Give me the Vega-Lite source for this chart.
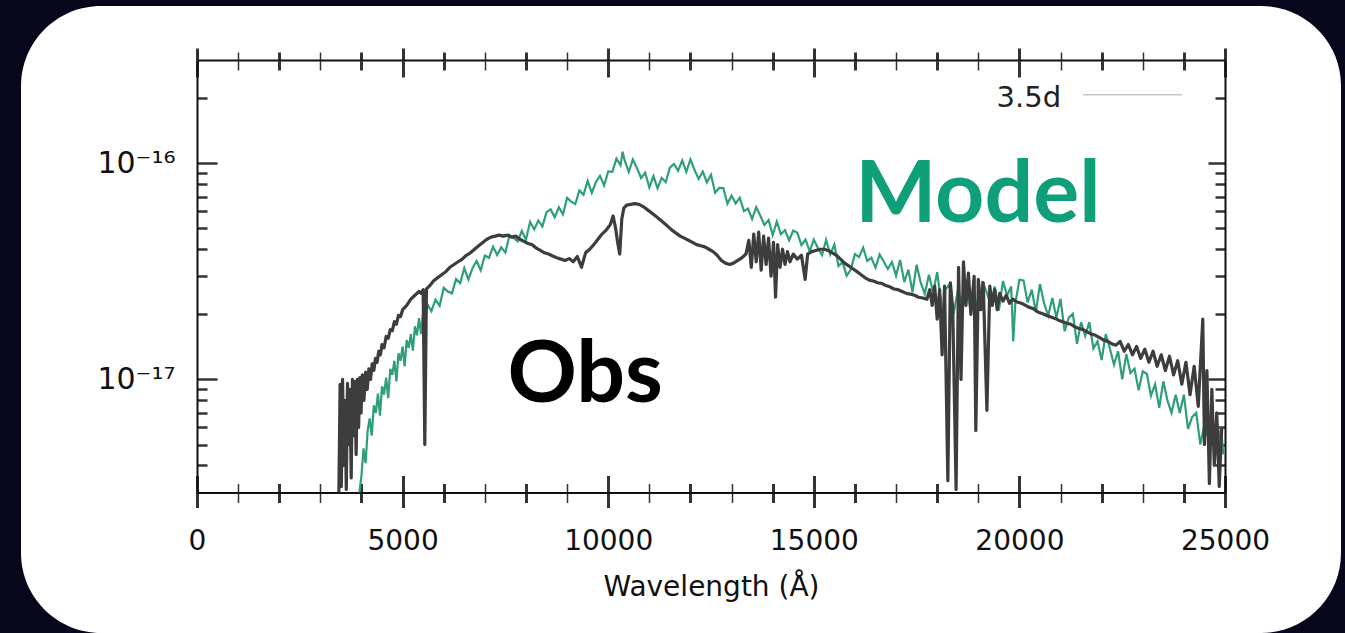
{
  "$schema": "https://vega.github.io/schema/vega-lite/v6.json",
  "width": 1320,
  "height": 627,
  "autosize": {"type": "none"},
  "padding": {"left": 21, "top": 6, "right": 4, "bottom": 0},
  "background": "#07071c",
  "config": {
    "view": {"fill": "white", "stroke": null, "cornerRadius": 80},
    "axis": {"grid": false, "domainColor": "#111111", "domainWidth": 2, "tickColor": "#333333", "labelFont": "DejaVu Sans", "labelColor": "#111111", "titleFont": "DejaVu Sans", "titleColor": "#111111", "titleFontWeight": "normal"}
  },
  "datasets": {
    "obs": [
      {"w":3450,"f":3.0e-18},{"w":3480,"f":9.5e-18},{"w":3510,"f":3.2e-18},{"w":3540,"f":1.0e-17},{"w":3570,"f":4.0e-18},{"w":3600,"f":8.0e-18},{"w":3630,"f":3.1e-18},{"w":3660,"f":9.6e-18},{"w":3690,"f":5.0e-18},{"w":3720,"f":9.0e-18},{"w":3750,"f":3.5e-18},{"w":3780,"f":1.0e-17},{"w":3810,"f":5.5e-18},{"w":3840,"f":9.8e-18},{"w":3870,"f":4.5e-18},{"w":3900,"f":1.0e-17},{"w":3930,"f":6.0e-18},{"w":3960,"f":1.02e-17},{"w":3990,"f":7.0e-18},{"w":4020,"f":1.05e-17},{"w":4060,"f":8.0e-18},{"w":4100,"f":1.08e-17},{"w":4140,"f":9.0e-18},{"w":4180,"f":1.12e-17},{"w":4220,"f":1.0e-17},{"w":4260,"f":1.18e-17},{"w":4300,"f":1.1e-17},{"w":4340,"f":1.25e-17},{"w":4380,"f":1.2e-17},{"w":4420,"f":1.35e-17},{"w":4460,"f":1.3e-17},{"w":4500,"f":1.45e-17},{"w":4550,"f":1.4e-17},{"w":4600,"f":1.58e-17},{"w":4650,"f":1.55e-17},{"w":4700,"f":1.7e-17},{"w":4750,"f":1.68e-17},{"w":4800,"f":1.85e-17},{"w":4850,"f":1.8e-17},{"w":4900,"f":1.98e-17},{"w":4950,"f":1.95e-17},{"w":5000,"f":2.1e-17},{"w":5100,"f":2.2e-17},{"w":5200,"f":2.35e-17},{"w":5300,"f":2.45e-17},{"w":5400,"f":2.55e-17},{"w":5450,"f":2.5e-17},{"w":5500,"f":2.6e-17},{"w":5540,"f":5.0e-18},{"w":5580,"f":2.62e-17},{"w":5650,"f":2.7e-17},{"w":5750,"f":2.85e-17},{"w":5850,"f":2.95e-17},{"w":5950,"f":3.05e-17},{"w":6050,"f":3.15e-17},{"w":6150,"f":3.3e-17},{"w":6250,"f":3.4e-17},{"w":6350,"f":3.5e-17},{"w":6450,"f":3.6e-17},{"w":6550,"f":3.75e-17},{"w":6650,"f":3.85e-17},{"w":6750,"f":4.0e-17},{"w":6850,"f":4.15e-17},{"w":6950,"f":4.3e-17},{"w":7050,"f":4.45e-17},{"w":7150,"f":4.55e-17},{"w":7250,"f":4.6e-17},{"w":7350,"f":4.65e-17},{"w":7450,"f":4.6e-17},{"w":7550,"f":4.65e-17},{"w":7650,"f":4.55e-17},{"w":7750,"f":4.6e-17},{"w":7850,"f":4.45e-17},{"w":7950,"f":4.35e-17},{"w":8050,"f":4.25e-17},{"w":8150,"f":4.2e-17},{"w":8250,"f":4.05e-17},{"w":8350,"f":3.95e-17},{"w":8450,"f":3.85e-17},{"w":8550,"f":3.8e-17},{"w":8650,"f":3.72e-17},{"w":8750,"f":3.65e-17},{"w":8850,"f":3.6e-17},{"w":8950,"f":3.55e-17},{"w":9050,"f":3.62e-17},{"w":9150,"f":3.5e-17},{"w":9250,"f":3.7e-17},{"w":9350,"f":3.3e-17},{"w":9450,"f":3.85e-17},{"w":9550,"f":4.0e-17},{"w":9650,"f":4.2e-17},{"w":9750,"f":4.45e-17},{"w":9850,"f":4.7e-17},{"w":9950,"f":4.9e-17},{"w":10050,"f":5.2e-17},{"w":10120,"f":5.7e-17},{"w":10180,"f":5.0e-17},{"w":10230,"f":4.3e-17},{"w":10280,"f":3.8e-17},{"w":10330,"f":5.5e-17},{"w":10380,"f":6.2e-17},{"w":10450,"f":6.4e-17},{"w":10550,"f":6.45e-17},{"w":10650,"f":6.5e-17},{"w":10750,"f":6.45e-17},{"w":10850,"f":6.3e-17},{"w":10950,"f":6.1e-17},{"w":11050,"f":5.9e-17},{"w":11150,"f":5.7e-17},{"w":11250,"f":5.5e-17},{"w":11350,"f":5.3e-17},{"w":11450,"f":5.1e-17},{"w":11550,"f":4.9e-17},{"w":11650,"f":4.75e-17},{"w":11750,"f":4.6e-17},{"w":11850,"f":4.5e-17},{"w":11950,"f":4.4e-17},{"w":12050,"f":4.3e-17},{"w":12150,"f":4.2e-17},{"w":12250,"f":4.15e-17},{"w":12350,"f":4.1e-17},{"w":12450,"f":4.0e-17},{"w":12550,"f":3.9e-17},{"w":12650,"f":3.75e-17},{"w":12750,"f":3.55e-17},{"w":12850,"f":3.45e-17},{"w":12950,"f":3.4e-17},{"w":13050,"f":3.45e-17},{"w":13150,"f":3.55e-17},{"w":13250,"f":3.65e-17},{"w":13350,"f":3.8e-17},{"w":13420,"f":4.4e-17},{"w":13480,"f":3.3e-17},{"w":13540,"f":4.7e-17},{"w":13600,"f":3.5e-17},{"w":13660,"f":4.8e-17},{"w":13720,"f":3.2e-17},{"w":13780,"f":4.6e-17},{"w":13840,"f":3.4e-17},{"w":13900,"f":4.5e-17},{"w":13960,"f":3.0e-17},{"w":14020,"f":4.3e-17},{"w":14070,"f":2.4e-17},{"w":14120,"f":4.2e-17},{"w":14180,"f":3.3e-17},{"w":14240,"f":4.0e-17},{"w":14300,"f":3.4e-17},{"w":14360,"f":3.9e-17},{"w":14420,"f":3.5e-17},{"w":14500,"f":3.8e-17},{"w":14600,"f":3.6e-17},{"w":14700,"f":3.75e-17},{"w":14790,"f":2.9e-17},{"w":14850,"f":3.8e-17},{"w":14950,"f":3.9e-17},{"w":15050,"f":3.95e-17},{"w":15150,"f":4.0e-17},{"w":15250,"f":4.0e-17},{"w":15350,"f":3.95e-17},{"w":15450,"f":3.85e-17},{"w":15550,"f":3.75e-17},{"w":15650,"f":3.6e-17},{"w":15750,"f":3.45e-17},{"w":15850,"f":3.35e-17},{"w":15950,"f":3.25e-17},{"w":16050,"f":3.15e-17},{"w":16150,"f":3.05e-17},{"w":16250,"f":2.95e-17},{"w":16350,"f":2.88e-17},{"w":16450,"f":2.85e-17},{"w":16550,"f":2.8e-17},{"w":16650,"f":2.78e-17},{"w":16750,"f":2.72e-17},{"w":16850,"f":2.68e-17},{"w":16950,"f":2.62e-17},{"w":17050,"f":2.6e-17},{"w":17150,"f":2.55e-17},{"w":17250,"f":2.5e-17},{"w":17350,"f":2.48e-17},{"w":17450,"f":2.45e-17},{"w":17550,"f":2.4e-17},{"w":17650,"f":2.38e-17},{"w":17750,"f":2.35e-17},{"w":17820,"f":2.6e-17},{"w":17880,"f":2.2e-17},{"w":17940,"f":2.7e-17},{"w":18000,"f":1.9e-17},{"w":18060,"f":2.6e-17},{"w":18120,"f":1.3e-17},{"w":18180,"f":2.7e-17},{"w":18260,"f":3.4e-18},{"w":18320,"f":2.8e-17},{"w":18380,"f":2.1e-17},{"w":18460,"f":3.1e-18},{"w":18520,"f":3.3e-17},{"w":18580,"f":1.0e-17},{"w":18640,"f":3.5e-17},{"w":18700,"f":2.2e-17},{"w":18760,"f":3.1e-17},{"w":18820,"f":2.0e-17},{"w":18900,"f":3.0e-17},{"w":18940,"f":5.8e-18},{"w":19000,"f":2.9e-17},{"w":19060,"f":2.1e-17},{"w":19120,"f":2.8e-17},{"w":19210,"f":7.2e-18},{"w":19280,"f":2.7e-17},{"w":19340,"f":2.2e-17},{"w":19400,"f":2.6e-17},{"w":19460,"f":2.1e-17},{"w":19520,"f":2.5e-17},{"w":19600,"f":2.3e-17},{"w":19680,"f":2.45e-17},{"w":19760,"f":2.25e-17},{"w":19840,"f":2.35e-17},{"w":19940,"f":2.28e-17},{"w":20050,"f":2.25e-17},{"w":20150,"f":2.2e-17},{"w":20250,"f":2.15e-17},{"w":20350,"f":2.12e-17},{"w":20450,"f":2.05e-17},{"w":20550,"f":2.02e-17},{"w":20650,"f":1.98e-17},{"w":20750,"f":1.95e-17},{"w":20850,"f":1.92e-17},{"w":20950,"f":1.88e-17},{"w":21050,"f":1.85e-17},{"w":21150,"f":1.82e-17},{"w":21250,"f":1.8e-17},{"w":21350,"f":1.75e-17},{"w":21450,"f":1.72e-17},{"w":21550,"f":1.7e-17},{"w":21650,"f":1.66e-17},{"w":21750,"f":1.62e-17},{"w":21850,"f":1.6e-17},{"w":21950,"f":1.56e-17},{"w":22050,"f":1.52e-17},{"w":22150,"f":1.5e-17},{"w":22250,"f":1.46e-17},{"w":22350,"f":1.44e-17},{"w":22450,"f":1.5e-17},{"w":22550,"f":1.35e-17},{"w":22650,"f":1.45e-17},{"w":22750,"f":1.3e-17},{"w":22850,"f":1.42e-17},{"w":22950,"f":1.25e-17},{"w":23050,"f":1.38e-17},{"w":23150,"f":1.2e-17},{"w":23250,"f":1.35e-17},{"w":23350,"f":1.15e-17},{"w":23450,"f":1.3e-17},{"w":23550,"f":1.1e-17},{"w":23650,"f":1.28e-17},{"w":23750,"f":1.05e-17},{"w":23850,"f":1.22e-17},{"w":23950,"f":9.5e-18},{"w":24050,"f":1.2e-17},{"w":24150,"f":8.5e-18},{"w":24250,"f":1.15e-17},{"w":24350,"f":7.5e-18},{"w":24460,"f":1.9e-17},{"w":24500,"f":5.0e-18},{"w":24560,"f":1.1e-17},{"w":24620,"f":3.3e-18},{"w":24680,"f":9.0e-18},{"w":24740,"f":4.0e-18},{"w":24800,"f":7.0e-18},{"w":24860,"f":3.2e-18},{"w":24920,"f":6.0e-18}
    ],
    "model": [
      {"w":3950,"f":3.0e-18},{"w":4000,"f":3.6e-18},{"w":4050,"f":4.8e-18},{"w":4100,"f":4.1e-18},{"w":4150,"f":5.8e-18},{"w":4200,"f":6.6e-18},{"w":4250,"f":5.5e-18},{"w":4300,"f":7.6e-18},{"w":4350,"f":7.0e-18},{"w":4400,"f":8.6e-18},{"w":4450,"f":6.8e-18},{"w":4500,"f":9.3e-18},{"w":4550,"f":8.5e-18},{"w":4600,"f":1.02e-17},{"w":4650,"f":8.2e-18},{"w":4700,"f":1.12e-17},{"w":4750,"f":1.05e-17},{"w":4800,"f":1.22e-17},{"w":4850,"f":9.8e-18},{"w":4900,"f":1.32e-17},{"w":4950,"f":1.22e-17},{"w":5000,"f":1.42e-17},{"w":5050,"f":1.15e-17},{"w":5100,"f":1.52e-17},{"w":5150,"f":1.4e-17},{"w":5200,"f":1.62e-17},{"w":5250,"f":1.36e-17},{"w":5300,"f":1.76e-17},{"w":5350,"f":1.6e-17},{"w":5400,"f":1.92e-17},{"w":5450,"f":1.62e-17},{"w":5500,"f":2.08e-17},{"w":5550,"f":1.85e-17},
      {"w":5600,"f":2.23e-17},{"w":5700,"f":2.07e-17},{"w":5800,"f":2.34e-17},{"w":5900,"f":2.19e-17},{"w":6000,"f":2.65e-17},{"w":6100,"f":2.55e-17},{"w":6200,"f":2.5e-17},{"w":6300,"f":2.91e-17},{"w":6400,"f":2.79e-17},{"w":6500,"f":3.27e-17},{"w":6600,"f":2.9e-17},{"w":6700,"f":3.27e-17},{"w":6800,"f":3.53e-17},{"w":6900,"f":3.2e-17},{"w":7000,"f":3.74e-17},{"w":7100,"f":3.65e-17},{"w":7200,"f":4.11e-17},{"w":7300,"f":3.76e-17},{"w":7400,"f":4.08e-17},{"w":7500,"f":3.86e-17},{"w":7600,"f":4.65e-17},{"w":7700,"f":4.51e-17},{"w":7800,"f":4.35e-17},{"w":7900,"f":4.87e-17},{"w":8000,"f":4.42e-17},{"w":8100,"f":5.36e-17},{"w":8200,"f":4.94e-17},{"w":8300,"f":5.42e-17},{"w":8400,"f":5.1e-17},{"w":8500,"f":5.94e-17},{"w":8600,"f":6.11e-17},{"w":8700,"f":5.62e-17},{"w":8800,"f":6.26e-17},{"w":8900,"f":5.8e-17},{"w":9000,"f":6.91e-17},{"w":9100,"f":6.64e-17},{"w":9200,"f":6.47e-17},{"w":9300,"f":7.48e-17},{"w":9400,"f":7.14e-17},{"w":9500,"f":8.28e-17},{"w":9600,"f":7.29e-17},{"w":9700,"f":8.16e-17},{"w":9800,"f":8.74e-17},{"w":9900,"f":7.88e-17},{"w":10000,"f":9.15e-17},{"w":10100,"f":9.11e-17},{"w":10200,"f":1.05e-16},{"w":10300,"f":9.79e-17},{"w":10350,"f":1.13e-16},{"w":10400,"f":1.03e-16},{"w":10500,"f":9.11e-17},{"w":10600,"f":1.04e-16},{"w":10700,"f":9.49e-17},{"w":10800,"f":8.54e-17},{"w":10900,"f":9.03e-17},{"w":11000,"f":7.72e-17},{"w":11100,"f":8.72e-17},{"w":11200,"f":7.66e-17},{"w":11300,"f":8.55e-17},{"w":11400,"f":8.18e-17},{"w":11500,"f":9.54e-17},{"w":11600,"f":9.91e-17},{"w":11700,"f":9.22e-17},{"w":11800,"f":1.03e-16},{"w":11900,"f":9.11e-17},{"w":12000,"f":1.04e-16},{"w":12100,"f":9.3e-17},{"w":12200,"f":8.46e-17},{"w":12300,"f":9.14e-17},{"w":12400,"f":8.15e-17},{"w":12500,"f":8.83e-17},{"w":12600,"f":7.3e-17},{"w":12700,"f":7.68e-17},{"w":12800,"f":7.67e-17},{"w":12900,"f":6.49e-17},{"w":13000,"f":7.07e-17},{"w":13100,"f":6.51e-17},{"w":13200,"f":6.93e-17},{"w":13300,"f":6.0e-17},{"w":13400,"f":6.16e-17},{"w":13500,"f":5.52e-17},{"w":13600,"f":6.26e-17},{"w":13700,"f":5.71e-17},{"w":13800,"f":5.18e-17},{"w":13900,"f":5.46e-17},{"w":14000,"f":4.65e-17},{"w":14100,"f":5.36e-17},{"w":14200,"f":4.69e-17},{"w":14300,"f":4.9e-17},{"w":14400,"f":4.4e-17},{"w":14500,"f":4.88e-17},{"w":14600,"f":4.77e-17},{"w":14700,"f":4.18e-17},{"w":14800,"f":4.43e-17},{"w":14900,"f":3.91e-17},{"w":15000,"f":4.43e-17},{"w":15100,"f":4.05e-17},{"w":15200,"f":3.76e-17},{"w":15300,"f":4.42e-17},{"w":15400,"f":3.78e-17},{"w":15500,"f":4.2e-17},{"w":15600,"f":3.35e-17},{"w":15700,"f":3.48e-17},{"w":15800,"f":3.02e-17},{"w":15900,"f":3.22e-17},{"w":16000,"f":3.8e-17},{"w":16100,"f":3.68e-17},{"w":16200,"f":4.07e-17},{"w":16300,"f":3.53e-17},{"w":16400,"f":3.65e-17},{"w":16500,"f":3.29e-17},{"w":16600,"f":3.78e-17},{"w":16700,"f":3.51e-17},{"w":16800,"f":3.24e-17},{"w":16900,"f":3.49e-17},{"w":17000,"f":3.02e-17},{"w":17100,"f":3.57e-17},{"w":17200,"f":2.82e-17},{"w":17300,"f":3.22e-17},{"w":17400,"f":2.53e-17},{"w":17500,"f":3.39e-17},{"w":17600,"f":2.8e-17},{"w":17700,"f":2.49e-17},{"w":17800,"f":3.05e-17},{"w":17900,"f":2.52e-17},{"w":18000,"f":3.13e-17},{"w":18100,"f":2.24e-17},{"w":18150,"f":1.75e-17},{"w":18200,"f":2.6e-17},{"w":18300,"f":2.75e-17},{"w":18400,"f":2.01e-17},{"w":18500,"f":2.57e-17},{"w":18600,"f":2.29e-17},{"w":18700,"f":2.76e-17},{"w":18800,"f":2.16e-17},{"w":18900,"f":2.44e-17},{"w":19000,"f":2.08e-17},{"w":19100,"f":2.85e-17},{"w":19200,"f":2.54e-17},{"w":19300,"f":2.23e-17},{"w":19400,"f":2.69e-17},{"w":19500,"f":2.08e-17},{"w":19600,"f":2.85e-17},{"w":19700,"f":2.44e-17},{"w":19800,"f":2.69e-17},{"w":19850,"f":1.5e-17},{"w":19900,"f":2.24e-17},{"w":20000,"f":2.89e-17},{"w":20100,"f":2.87e-17},{"w":20200,"f":2.27e-17},{"w":20300,"f":2.6e-17},{"w":20400,"f":2.05e-17},{"w":20500,"f":2.76e-17},{"w":20600,"f":2.25e-17},{"w":20700,"f":1.97e-17},{"w":20800,"f":2.38e-17},{"w":20900,"f":1.93e-17},{"w":21000,"f":2.36e-17},{"w":21100,"f":1.67e-17},{"w":21200,"f":1.93e-17},{"w":21300,"f":2.01e-17},{"w":21400,"f":1.46e-17},{"w":21500,"f":1.84e-17},{"w":21600,"f":1.59e-17},{"w":21700,"f":1.84e-17},{"w":21800,"f":1.39e-17},{"w":21900,"f":1.5e-17},{"w":22000,"f":1.23e-17},{"w":22100,"f":1.62e-17},{"w":22200,"f":1.39e-17},{"w":22300,"f":1.17e-17},{"w":22400,"f":1.35e-17},{"w":22500,"f":1.0e-17},{"w":22600,"f":1.31e-17},{"w":22700,"f":1.07e-17},{"w":22800,"f":1.12e-17},{"w":22900,"f":8.9e-18},{"w":23000,"f":1.09e-17},{"w":23100,"f":1.06e-17},{"w":23200,"f":8.4e-18},{"w":23300,"f":9.5e-18},{"w":23400,"f":7.4e-18},{"w":23500,"f":9.8e-18},{"w":23600,"f":8.0e-18},{"w":23700,"f":7.0e-18},{"w":23800,"f":8.5e-18},{"w":23900,"f":7.0e-18},{"w":24000,"f":8.5e-18},{"w":24100,"f":5.9e-18},{"w":24200,"f":6.7e-18},{"w":24300,"f":7.0e-18},{"w":24400,"f":5.0e-18},{"w":24500,"f":6.2e-18},{"w":24600,"f":5.3e-18},{"w":24700,"f":6.2e-18},{"w":24800,"f":4.6e-18},{"w":24900,"f":6.0e-18},{"w":24960,"f":4.5e-18}
    ],
    "legendline": [{"w":21550,"f":2.07e-16},{"w":23950,"f":2.07e-16}],
    "legendtext": [{"w":20230,"f":1.82e-16,"t":"3.5d"}],
    "notes": [{"w":18990,"f":5.33e-17,"t":"Model"},{"w":9440,"f":7.9e-18,"t":"Obs"}]
  },
  "resolve": {"axis": {"x": "independent", "y": "independent"}},
  "layer": [
    {
      "data": {"name": "model"},
      "mark": {"type": "line", "color": "#2f9e7c", "strokeWidth": 2.2},
      "encoding": {
        "x": {"field": "w", "type": "quantitative",
              "scale": {"domain": [0, 25000], "range": [176, 1204], "nice": false, "zero": false},
              "axis": {"orient": "top", "offset": -486.5, "title": null, "labels": false, "domain": false,
                       "values": [0,1000,2000,3000,4000,5000,6000,7000,8000,9000,10000,11000,12000,13000,14000,15000,16000,17000,18000,19000,20000,21000,22000,23000,24000,25000],
                       "tickSize": {"condition": {"test": "datum.value % 5000 === 0", "value": 17}, "value": 9},
                       "tickWidth": {"condition": {"test": "datum.value % 2000 === 0 || datum.value % 5000 === 0", "value": 3}, "value": 1.5}}},
        "y": {"field": "f", "type": "quantitative",
              "scale": {"type": "log", "domain": [3e-18, 3e-16], "range": [486.5, 54], "nice": false},
              "axis": {"orient": "right", "offset": -1144, "title": null, "labels": false, "domain": false,
                       "values": [4e-18,5e-18,6e-18,7e-18,8e-18,9e-18,1e-17,2e-17,3e-17,4e-17,5e-17,6e-17,7e-17,8e-17,9e-17,1e-16,2e-16],
                       "tickSize": {"condition": {"test": "datum.value === 1e-17 || datum.value === 1e-16", "value": 20}, "value": 10},
                       "tickWidth": 2.5}}
      }
    },
    {
      "data": {"name": "obs"},
      "mark": {"type": "line", "color": "#3d3d3d", "strokeWidth": 3.2, "strokeJoin": "round"},
      "encoding": {
        "x": {"field": "w", "type": "quantitative",
              "axis": {"orient": "bottom", "offset": -140.5, "title": "Wavelength (Å)", "titleFontSize": 28, "titlePadding": 18,
                       "values": [0,1000,2000,3000,4000,5000,6000,7000,8000,9000,10000,11000,12000,13000,14000,15000,16000,17000,18000,19000,20000,21000,22000,23000,24000,25000],
                       "format": "d", "labelExpr": "datum.value % 5000 === 0 ? datum.label : ''", "labelOverlap": false, "labelFlush": false,
                       "labelFontSize": 28, "labelPadding": 20, "domain": true,
                       "tickSize": {"condition": {"test": "datum.value % 5000 === 0", "value": 15}, "value": 10},
                       "tickWidth": {"condition": {"test": "datum.value % 2000 === 0 || datum.value % 5000 === 0", "value": 3}, "value": 1.5}}},
        "y": {"field": "f", "type": "quantitative",
              "axis": {"orient": "left", "offset": -176, "title": null, "values": [1e-17, 1e-16],
                       "labelExpr": "datum.value === 1e-16 ? '10⁻¹⁶' : '10⁻¹⁷'",
                       "ticks": false, "tickSize": 0, "labelFontSize": 30, "labelPadding": 22, "domain": true}}
      }
    },
    {
      "data": {"name": "legendline"},
      "mark": {"type": "line", "color": "#c4c4c4", "strokeWidth": 1.5},
      "encoding": {
        "x": {"field": "w", "type": "quantitative",
              "axis": {"orient": "top", "offset": -54, "title": null, "labels": false, "domain": true,
                       "values": [0,1000,2000,3000,4000,5000,6000,7000,8000,9000,10000,11000,12000,13000,14000,15000,16000,17000,18000,19000,20000,21000,22000,23000,24000,25000],
                       "tickSize": {"condition": {"test": "datum.value % 5000 === 0", "value": 12}, "value": 8},
                       "tickWidth": {"condition": {"test": "datum.value % 2000 === 0 || datum.value % 5000 === 0", "value": 3}, "value": 1.5}}},
        "y": {"field": "f", "type": "quantitative",
              "axis": {"orient": "left", "offset": -1204, "title": null, "labels": false, "domain": true,
                       "values": [4e-18,5e-18,6e-18,7e-18,8e-18,9e-18,1e-17,2e-17,3e-17,4e-17,5e-17,6e-17,7e-17,8e-17,9e-17,1e-16,2e-16],
                       "tickSize": {"condition": {"test": "datum.value === 1e-17 || datum.value === 1e-16", "value": 17}, "value": 10},
                       "tickWidth": 2.5}}
      }
    },
    {
      "data": {"name": "legendtext"},
      "mark": {"type": "text", "font": "DejaVu Sans", "fontSize": 29, "color": "#222222", "align": "center", "baseline": "alphabetic"},
      "encoding": {
        "x": {"field": "w", "type": "quantitative",
              "axis": {"orient": "bottom", "offset": -573, "title": null, "labels": false, "domain": false,
                       "values": [0,1000,2000,3000,4000,5000,6000,7000,8000,9000,10000,11000,12000,13000,14000,15000,16000,17000,18000,19000,20000,21000,22000,23000,24000,25000],
                       "tickSize": {"condition": {"test": "datum.value % 5000 === 0", "value": 17}, "value": 10},
                       "tickWidth": {"condition": {"test": "datum.value % 2000 === 0 || datum.value % 5000 === 0", "value": 3}, "value": 1.5}}},
        "y": {"field": "f", "type": "quantitative", "axis": null},
        "text": {"field": "t"}
      }
    },
    {
      "data": {"name": "notes"},
      "mark": {"type": "text", "font": "Lato", "fontWeight": "bold", "fontSize": 86, "align": "center", "baseline": "alphabetic"},
      "encoding": {
        "x": {"field": "w", "type": "quantitative", "axis": null},
        "y": {"field": "f", "type": "quantitative", "axis": null},
        "text": {"field": "t"},
        "color": {"field": "t", "type": "nominal", "scale": {"domain": ["Model", "Obs"], "range": ["#0fa07a", "#000000"]}, "legend": null}
      }
    }
  ]
}
